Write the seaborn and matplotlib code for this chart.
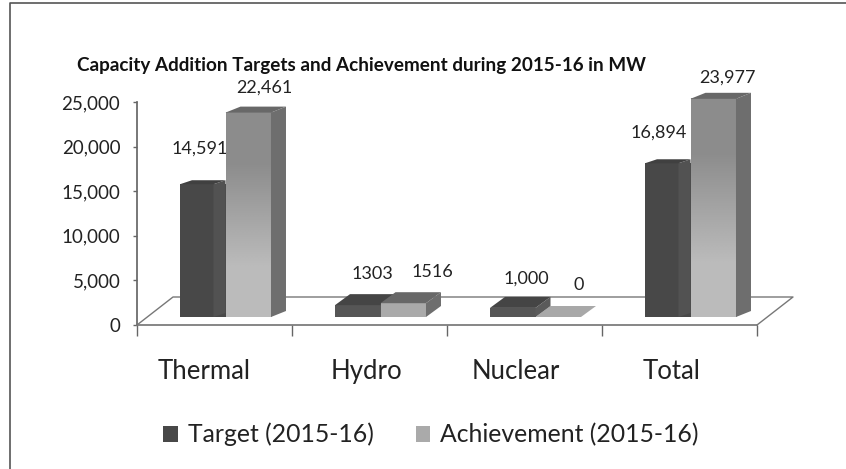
import numpy as np
import pandas as pd
import matplotlib.pyplot as plt
import seaborn as sns
from matplotlib.colors import LinearSegmentedColormap
from matplotlib.lines import Line2D
from matplotlib.patches import Polygon

# values
categories = ['Thermal', 'Hydro', 'Nuclear', 'Total']
target = [14591, 1303, 1000, 16894]
achievement = [22461, 1516, 0, 23977]
target_labels = ['14,591', '1303', '1,000', '16,894']
achievement_labels = ['22,461', '1516', '0', '23,977']
y_ticks = [0, 5000, 10000, 15000, 20000, 25000]
series_names = ['Target (2015-16)', 'Achievement (2015-16)']

W, H = 846, 469
# plot box in pixels of the picture
LEFT, RIGHT, TOP, ZERO = 137, 757, 70, 325
PX_PER_UNIT_AXIS = 223 / 25000   # tick scale
PX_PER_UNIT_BAR = 0.0091         # the 3d bars run slightly taller than the ticks
BAR_BASE = 317
PX_PER_CAT = (RIGHT - LEFT) / 4

sns.set_theme(style='white')
plt.rcParams['font.family'] = ['Lato', 'DejaVu Sans']
TXT = '#222222'

df = pd.DataFrame({
    'category': categories * 2,
    'series': [series_names[0]] * 4 + [series_names[1]] * 4,
    'value': target + achievement,
})

fig = plt.figure(figsize=(W / 100, H / 100), dpi=100)
box = [LEFT / W, 1 - ZERO / H, (RIGHT - LEFT) / W, (ZERO - TOP) / H]

# axis with the ticks and the floor
ax = fig.add_axes(box)
ax.set_xlim(-0.5, 3.5)
ax.set_ylim(0, (ZERO - TOP) / PX_PER_UNIT_AXIS)
for s in ['top', 'right']:
    ax.spines[s].set_visible(False)
ax.spines['left'].set_bounds(0, 25000)
ax.spines['left'].set_color('#666666')
ax.spines['bottom'].set_color('#777777')
ax.set_yticks(y_ticks)
ax.set_yticklabels([f'{v:,}' for v in y_ticks], fontsize=13.5, color=TXT)
ax.set_xticks([-0.5, 0.5, 1.5, 2.5, 3.5])
ax.set_xticklabels([])
ax.tick_params(axis='y', left=True, length=3, width=1, color='#666666', pad=9)
ax.tick_params(axis='x', bottom=True, length=8, width=1, color='#666666')

# floor of the 3d box
fdx = 36 / PX_PER_CAT
fdy = 28 / PX_PER_UNIT_AXIS
ax.plot([-0.5, -0.5 + fdx, 3.5 + fdx, 3.5], [0, fdy, fdy, 0], color='#777777', lw=1, clip_on=False)

# category labels sit a little left of the cells
label_shift = [-10, -3, -9, -8]
for i, c in enumerate(categories):
    ax.annotate(c, (i, 0), xytext=(label_shift[i] * 0.72, -46 * 0.72), textcoords='offset points',
                ha='center', va='center', fontsize=18.5, color=TXT, annotation_clip=False)

# second axis for the bars
ax_b = fig.add_axes(box, frameon=False)
sns.barplot(data=df, x='category', y='value', hue='series', ax=ax_b, order=categories,
            hue_order=series_names, palette=['#484848', '#aaaaaa'], width=0.587, gap=0,
            saturation=1, linewidth=0, errorbar=None)
shift = 11 / PX_PER_CAT
xlim = (-0.5 - shift, 3.5 - shift)
base = (ZERO - BAR_BASE) / PX_PER_UNIT_BAR
ylim = (-base, (BAR_BASE - TOP) / PX_PER_UNIT_BAR)
ax_b.set_xlabel('')
ax_b.set_ylabel('')
ax_b.set_xticks([])
ax_b.set_yticks([])
ax_b.grid(False)

bars = list(ax_b.patches)[:8]
px_x = 1 / PX_PER_CAT
px_y = 1 / PX_PER_UNIT_BAR
ramp = LinearSegmentedColormap.from_list('ramp', ['#8c8c8c', '#bbbbbb'])

for k, bar in enumerate(bars):
    is_target = k < 4
    x0, w, h = bar.get_x(), bar.get_width(), bar.get_height()
    tall = h > 5000
    z = 4 if is_target else 5
    bar.set_zorder(z)
    bar.set_clip_on(False)
    if not is_target and tall:
        im = ax_b.imshow([[0.0], [1.0]], cmap=ramp, aspect='auto', interpolation='bilinear',
                         extent=(x0, x0 + w, 0, h), zorder=z + 0.1, vmin=0, vmax=1)
        im.set_clip_on(False)
    if is_target and tall:
        # side is mostly behind the next bar, only a strip shows
        sx0, sx1, rise, side_c, top_c = x0 + w - 12 * px_x, x0 + w, 4, '#525252', '#404040'
    elif is_target:
        bar.set_facecolor('#565656')
        sx0, sx1, rise, side_c, top_c = x0 + w, x0 + w + 15 * px_x, 11, '#5a5a5a', '#454545'
    else:
        rise = 6 if tall else 11
        sx0, sx1, side_c, top_c = x0 + w, x0 + w + 15 * px_x, '#6e6e6e', '#686868'
    r = rise * px_y
    if h == 0:
        top_c = '#a8a8a8'
    if h > 0:
        ax_b.add_patch(Polygon([(sx0, 0), (sx0, h), (sx1, h + r), (sx1, r)], closed=True, fc=side_c,
                               lw=0, zorder=z + 0.2, clip_on=False))
    ax_b.add_patch(Polygon([(x0, h), (sx0, h), (sx1, h + r), (x0 + (sx1 - sx0), h + r)], closed=True,
                           fc=top_c, lw=0, zorder=(z + 0.2 if h > 0 else 3), clip_on=False))

ax_b.set_xlim(*xlim)
ax_b.set_ylim(*ylim)

# value labels, nudged by hand like the original
target_off = [(-3, 36), (15, 31), (14, 29), (-9, 31)]
achievement_off = [(16, 25), (29, 31), (20, 32), (14, 21)]
for k, bar in enumerate(bars):
    txt = (target_labels + achievement_labels)[k]
    off = (target_off + achievement_off)[k]
    cx = bar.get_x() + bar.get_width() / 2
    # target labels stay behind the neighbouring bar, as in the original
    ax_b.annotate(txt, (cx, bar.get_height()), xytext=(off[0] * 0.72, off[1] * 0.72),
                  textcoords='offset points', ha='center', va='center', fontsize=13,
                  color=TXT, zorder=4.9 if k < 4 else 6, annotation_clip=False)

sns.move_legend(ax_b, 'center', bbox_to_anchor=(0.474, -0.43), ncol=2, frameon=False, title=None,
                fontsize=17.8, handlelength=0.6, handleheight=0.6, handletextpad=0.4,
                columnspacing=1.7, labelcolor=TXT)

fig.text(361 / W, 1 - 66 / H, 'Capacity Addition Targets and Achievement during 2015-16 in MW',
         ha='center', va='center', fontsize=13.6, fontweight='bold', color='#111111')

# thin frame of the chart area
fig.add_artist(Line2D([10 / W, 10 / W, 1], [0, 1 - 3 / H, 1 - 3 / H], color='#555555', lw=1.2))

fig.savefig('out.png', dpi=100)
